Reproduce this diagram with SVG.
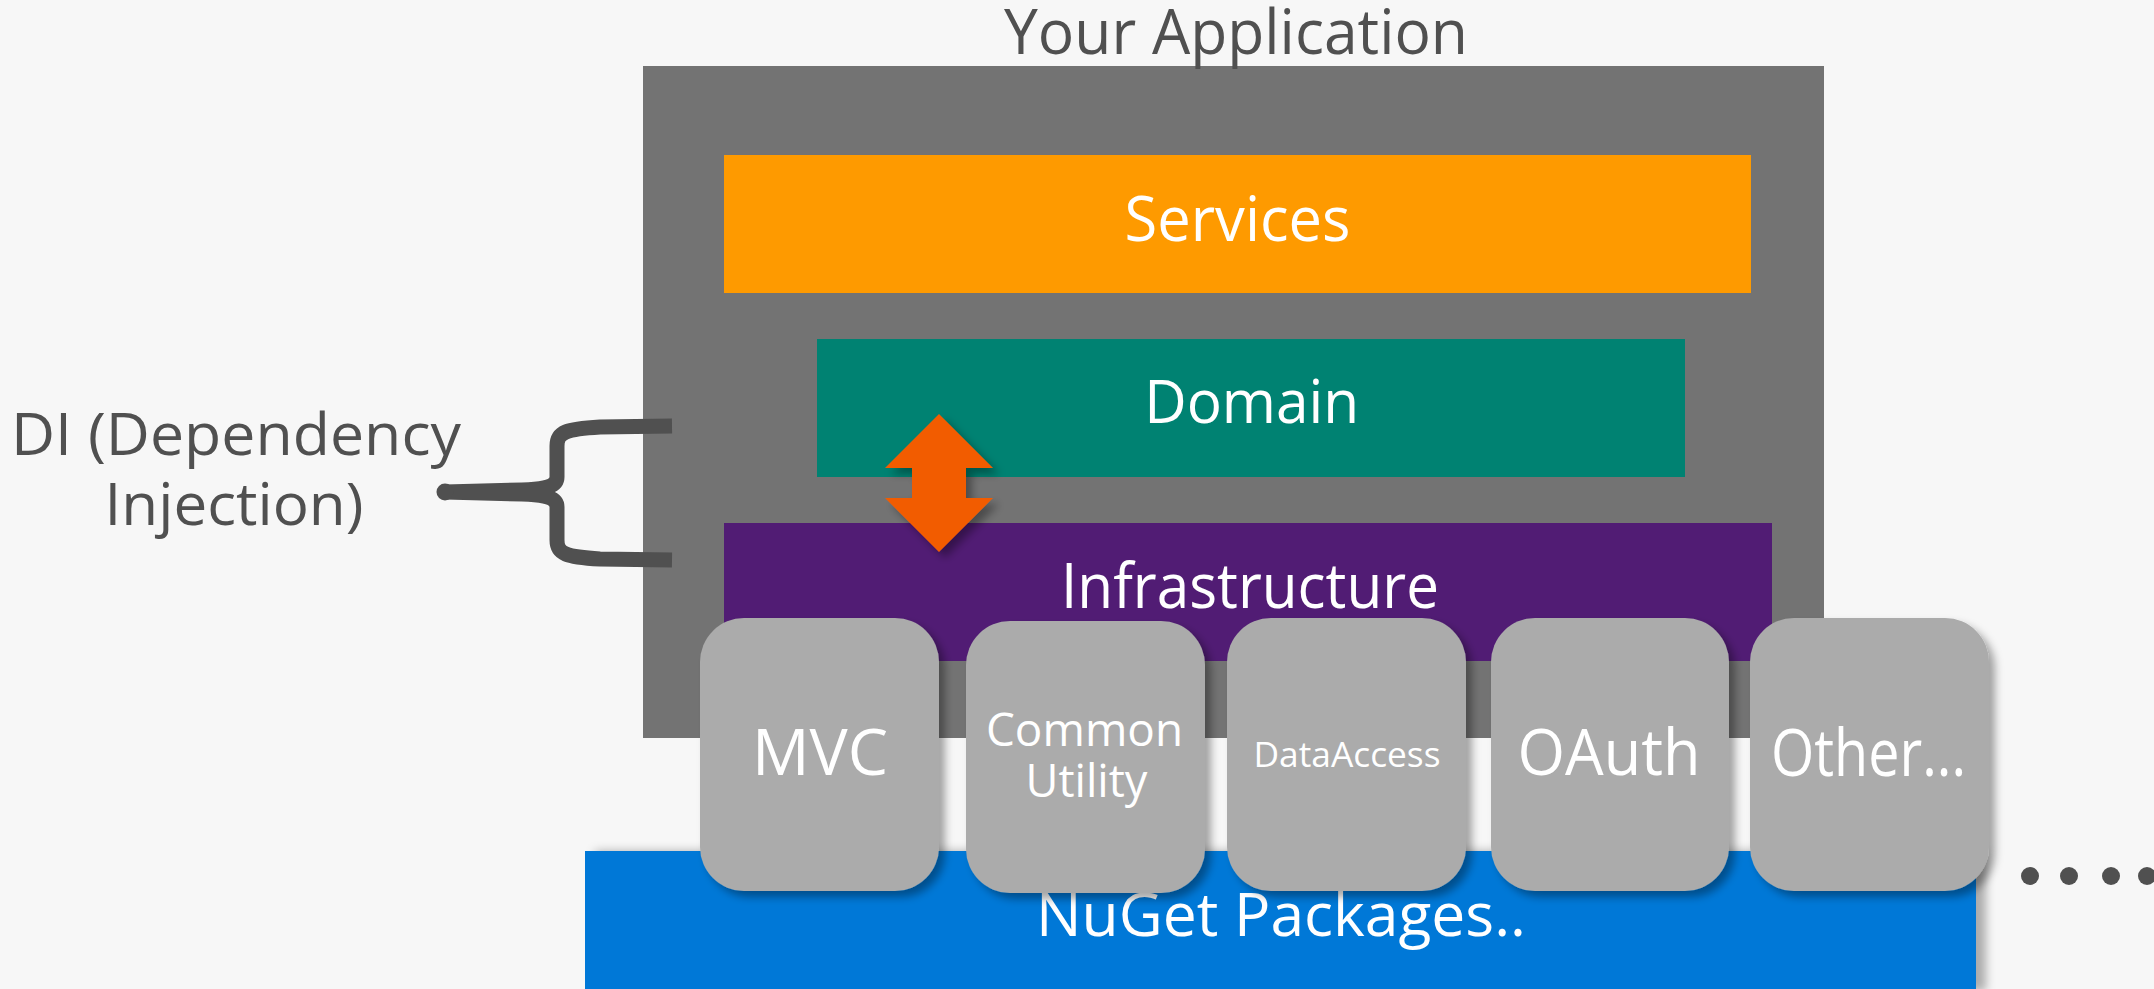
<svg xmlns="http://www.w3.org/2000/svg" width="2154" height="989" viewBox="0 0 2154 989">
<defs>
<filter id="sh" x="-20%" y="-20%" width="150%" height="150%">
<feDropShadow dx="6" dy="6" stdDeviation="4" flood-color="#000" flood-opacity="0.35"/>
</filter>
<filter id="shb" x="-5%" y="-20%" width="115%" height="150%">
<feDropShadow dx="10" dy="0" stdDeviation="5" flood-color="#000" flood-opacity="0.3"/>
</filter>
<style>
.t{font-family:"Open Sans","Noto Sans",sans-serif;text-anchor:middle;}
.w{fill:#ffffff;}
.g{fill:#505050;}
.chip{fill:#ababab;}
</style>
</defs>
<rect x="0" y="0" width="2154" height="989" fill="#f7f7f7"/>

<g id="app">
<rect x="643" y="66" width="1181" height="672" fill="#737373"/>
<text class="t g" x="1236" y="54" font-size="62" textLength="464" lengthAdjust="spacingAndGlyphs">Your Application</text>
</g>

<g id="nuget">
<rect x="585" y="851" width="1391" height="140" fill="#0078d7" filter="url(#shb)"/>
<text class="t w" x="1281" y="936" font-size="60" textLength="490" lengthAdjust="spacingAndGlyphs">NuGet Packages..</text>
</g>

<g id="services">
<rect x="724" y="155" width="1027" height="138" fill="#fe9a00"/>
<text class="t w" x="1237.5" y="241" font-size="63" textLength="226" lengthAdjust="spacingAndGlyphs">Services</text>
</g>

<g id="domain">
<rect x="817" y="339" width="868" height="138" fill="#008272"/>
<text class="t w" x="1251.7" y="423" font-size="60" textLength="215" lengthAdjust="spacingAndGlyphs">Domain</text>
</g>

<g id="infrastructure">
<rect x="724" y="523" width="1048" height="138" fill="#511c74"/>
<text class="t w" x="1250" y="607.5" font-size="62" textLength="378" lengthAdjust="spacingAndGlyphs">Infrastructure</text>
</g>

<g id="arrow">
<polygon points="939,414 993,468 966,468 966,498 993,498 939,552 885,498 912,498 912,468 885,468" fill="#f25c00" filter="url(#sh)"/>
</g>

<g id="mvc">
<rect class="chip" x="700" y="618" width="239" height="273" rx="44" ry="44" filter="url(#sh)"/>
<text class="t w" x="820" y="775" font-size="64" textLength="136" lengthAdjust="spacingAndGlyphs">MVC</text>
</g>

<g id="common">
<rect class="chip" x="966" y="621" width="239" height="272" rx="44" ry="44" filter="url(#sh)"/>
<text class="t w" x="1084.5" y="745.5" font-size="46" textLength="197" lengthAdjust="spacingAndGlyphs">Common</text>
<text class="t w" x="1086.5" y="797" font-size="46" textLength="122" lengthAdjust="spacingAndGlyphs">Utility</text>
</g>

<g id="dataaccess">
<rect class="chip" x="1227" y="618" width="239" height="273" rx="44" ry="44" filter="url(#sh)"/>
<text class="t w" x="1347" y="766.5" font-size="35" textLength="187" lengthAdjust="spacingAndGlyphs">DataAccess</text>
</g>

<g id="oauth">
<rect class="chip" x="1491" y="618" width="238" height="273" rx="44" ry="44" filter="url(#sh)"/>
<text class="t w" x="1609" y="775" font-size="64" textLength="183" lengthAdjust="spacingAndGlyphs">OAuth</text>
</g>

<g id="other">
<rect class="chip" x="1750" y="618" width="239" height="273" rx="44" ry="44" filter="url(#sh)"/>
<text class="t w" x="1868.5" y="776" font-size="66" textLength="195" lengthAdjust="spacingAndGlyphs">Other...</text>
</g>

<g id="di">
<text class="t g" x="236" y="455" font-size="59" textLength="450" lengthAdjust="spacingAndGlyphs">DI (Dependency</text>
<text class="t g" x="234" y="525" font-size="59" textLength="259" lengthAdjust="spacingAndGlyphs">Injection)</text>
</g>

<g id="connectors">
<path d="M 672 426 L 600 427 C 566 429 557 432 557 446 L 557 477 C 557 486 547 489 522 490 L 445 492 M 672 560 L 600 559 C 566 557 557 554 557 540 L 557 507 C 557 498 547 495 522 494 L 445 492" fill="none" stroke="#505050" stroke-width="15" stroke-linecap="butt" stroke-linejoin="round"/>
<circle cx="445" cy="492" r="8.5" fill="#505050"/>
</g>

<g id="dots" fill="#505050">
<circle cx="2030" cy="876" r="9"/>
<circle cx="2069" cy="876" r="9"/>
<circle cx="2111" cy="876" r="9"/>
<circle cx="2147" cy="876" r="9"/>
</g>
</svg>
